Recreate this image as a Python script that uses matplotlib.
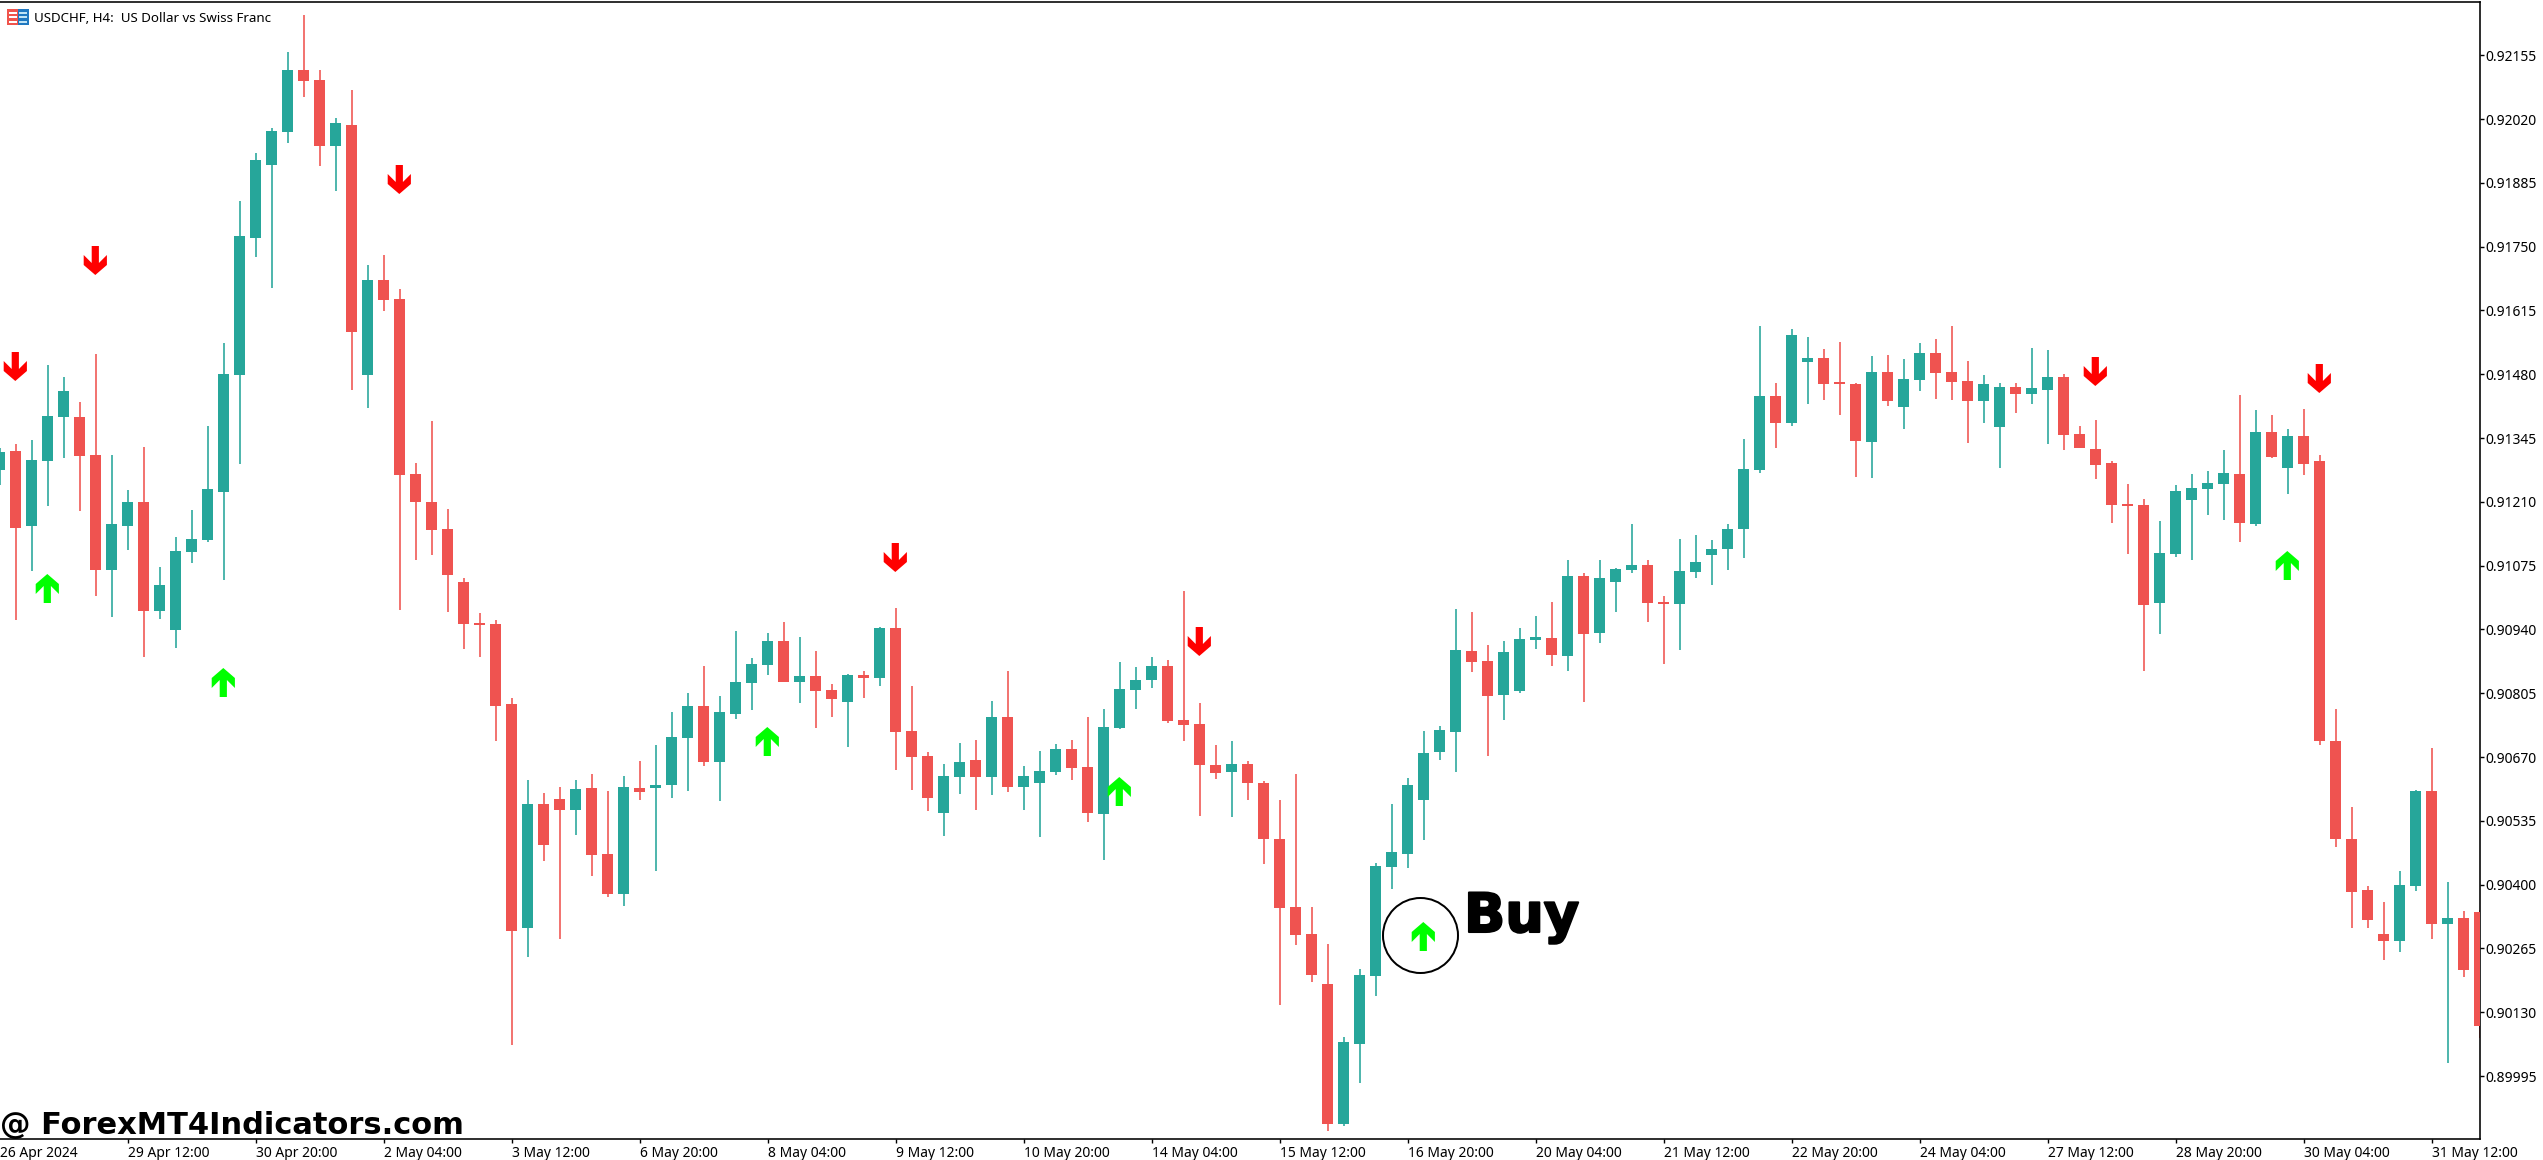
import numpy as np
import matplotlib
matplotlib.use("Agg")
import matplotlib.pyplot as plt
from matplotlib.path import Path
from matplotlib.patches import Rectangle
import matplotlib.patheffects as pe

# Candles, H4 USDCHF, prices in points (1e-5)
open_pts = [91277,91318,91159,91297,91390,91390,91309,91066,91159,91210,90979,90939,91104,91129,91231,91479,
91768,91923,91993,92124,92103,91963,92007,91479,91680,91639,91269,91210,91153,91040,90954,90952,
90782,90308,90571,90581,90558,90605,90465,90380,90605,90605,90611,90710,90778,90660,90761,90827,
90865,90916,90829,90842,90812,90787,90844,90837,90943,90725,90672,90552,90628,90664,90628,90755,
90607,90615,90638,90687,90649,90550,90732,90812,90833,90863,90749,90740,90653,90638,90655,90615,
90497,90353,90296,90190,89894,90063,90207,90437,90465,90579,90681,90723,90894,90873,90801,90810,
90918,90922,90884,91053,90933,91040,91066,91077,90998,90994,91062,91098,91110,91153,91277,91434,
91377,91506,91514,91464,91459,91337,91485,91411,91468,91525,91485,91466,91423,91368,91453,91438,
91447,91474,91354,91322,91292,91206,91203,90996,91100,91214,91237,91248,91269,91163,91358,91282,
91349,91297,90704,90497,90389,90296,90281,90397,90598,90317,90329,90342]
high_pts = [91324,91332,91341,91500,91474,91421,91523,91309,91235,91326,91072,91136,91193,91371,91546,91847,
91948,92001,92162,92240,92124,92022,92082,91711,91732,91660,91292,91381,91195,91049,90975,90960,
90795,90621,90594,90607,90621,90634,90598,90630,90662,90696,90765,90806,90863,90799,90937,90880,
90933,90956,90924,90894,90825,90846,90852,90945,90985,90820,90681,90655,90700,90706,90789,90852,
90651,90683,90698,90706,90755,90772,90871,90861,90882,90875,91021,90784,90696,90704,90662,90619,
90579,90634,90353,90274,90078,90222,90446,90571,90626,90725,90736,90983,90977,90907,90916,90943,
90969,90998,91087,91060,91087,91070,91163,91087,91011,91131,91140,91129,91163,91343,91582,91462,
91576,91559,91534,91548,91462,91519,91521,91512,91546,91555,91582,91508,91479,91462,91462,91536,
91531,91481,91371,91383,91297,91248,91216,91170,91246,91269,91275,91320,91436,91404,91394,91364,
91407,91309,90772,90564,90397,90363,90429,90600,90689,90406,90344,90346]
low_pts = [91246,90960,91064,91201,91303,91191,91011,90966,91108,90882,90962,90901,91081,91125,91045,91290,
91728,91663,91969,92067,91921,91868,91447,91409,91614,90981,91087,91098,90977,90899,90882,90704,
90061,90247,90450,90285,90505,90418,90374,90355,90579,90429,90583,90598,90651,90577,90751,90770,
90844,90829,90784,90732,90755,90691,90795,90820,90643,90600,90556,90503,90592,90558,90590,90596,
90558,90501,90632,90621,90533,90452,90729,90772,90816,90742,90704,90545,90624,90543,90579,90444,
90145,90272,90194,89879,89889,89980,90164,90391,90435,90495,90664,90638,90850,90672,90749,90806,
90899,90863,90852,90787,90911,90977,91060,90956,90867,90897,91049,91034,91066,91091,91271,91324,
91371,91417,91426,91394,91263,91261,91413,91364,91445,91428,91426,91335,91377,91282,91398,91417,
91332,91320,91324,91258,91165,91100,90852,90930,91093,91087,91182,91172,91125,91159,91303,91227,
91267,90696,90480,90308,90308,90241,90258,90387,90285,90023,90205,90076]
close_pts = [91316,91155,91299,91392,91445,91307,91066,91163,91210,90979,91034,91106,91131,91237,91481,91773,
91933,91995,92124,92101,91963,92012,91570,91680,91637,91267,91210,91150,91055,90952,90949,90778,
90302,90571,90484,90558,90603,90463,90380,90607,90596,90611,90713,90778,90660,90765,90829,90867,
90916,90829,90842,90810,90793,90844,90837,90943,90723,90670,90583,90630,90660,90628,90755,90607,
90630,90640,90687,90647,90552,90734,90814,90833,90863,90746,90738,90653,90636,90655,90615,90497,
90351,90294,90209,89894,90067,90209,90440,90469,90611,90679,90727,90897,90871,90799,90892,90920,
90924,90886,91053,90930,91049,91068,91077,90996,90994,91064,91083,91110,91153,91280,91434,91377,
91563,91514,91459,91459,91339,91485,91423,91470,91525,91483,91464,91423,91459,91453,91438,91451,
91474,91352,91324,91288,91203,91201,90992,91102,91233,91239,91250,91271,91165,91358,91305,91349,
91290,90704,90497,90385,90325,90281,90399,90598,90317,90329,90219,90101]

sell_bars = [1, 6, 25, 56, 75, 131, 145]
sell_pts = [91498, 91722, 91893, 91093, 90916, 91488, 91473]
buy_bars = [3, 14, 48, 70, 89, 143]
buy_pts = [91027, 90828, 90705, 90599, 90292, 91077]

highlight_bar = 88.75
highlight_pts = 90294

y_tick_pts = [92155, 92020, 91885, 91750, 91615, 91480, 91345, 91210, 91075, 90940,
              90805, 90670, 90535, 90400, 90265, 90130, 89995]
x_tick_labels = ['26 Apr 2024', '29 Apr 12:00', '30 Apr 20:00', '2 May 04:00', '3 May 12:00',
                 '6 May 20:00', '8 May 04:00', '9 May 12:00', '10 May 20:00', '14 May 04:00',
                 '15 May 12:00', '16 May 20:00', '20 May 04:00', '21 May 12:00', '22 May 20:00',
                 '24 May 04:00', '27 May 12:00', '28 May 20:00', '30 May 04:00', '31 May 12:00']
x_tick_step = 8

TITLE = 'USDCHF, H4:  US Dollar vs Swiss Franc'
WATERMARK = '@ ForexMT4Indicators.com'
UP = '#26A69A'
DOWN = '#EF5350'
LABEL_FONT = 'Noto Sans'

W, H, DPI = 2543, 1160, 100
PLOT_RIGHT, PLOT_TOP, PLOT_BOTTOM = 2480.3, 1.5, 1139.3
BAR_PX = 16.0
BAR_ZERO_PX = -0.3
PTS_PER_PX = 2.116
PTS_AT_Y0 = 92272

px = 72 / DPI
to_price = lambda a: np.asarray(a, dtype=float) / 1e5

fig = plt.figure(figsize=(W / DPI, H / DPI), dpi=DPI, facecolor='white')
ax = fig.add_axes([0, 1 - PLOT_BOTTOM / H, PLOT_RIGHT / W, (PLOT_BOTTOM - PLOT_TOP) / H])
ax.set_xlim((0 - BAR_ZERO_PX) / BAR_PX, (PLOT_RIGHT - BAR_ZERO_PX) / BAR_PX)
ax.set_ylim(to_price(PTS_AT_Y0 - PTS_PER_PX * PLOT_BOTTOM), to_price(PTS_AT_Y0 - PTS_PER_PX * PLOT_TOP))

o, h, l, c = map(to_price, (open_pts, high_pts, low_pts, close_pts))
bars = np.arange(len(o))
colors = [UP if ci >= oi else DOWN for oi, ci in zip(o, c)]

ax.vlines(bars, l, h, colors=colors, linewidth=1.6 * px, zorder=2)
ax.bar(bars, np.maximum(np.abs(c - o), 1.5e-5), bottom=np.minimum(o, c), width=11 / BAR_PX,
       color=colors, linewidth=0, zorder=3)

# Signal arrows
s = [(-3.6, 14.5), (3.6, 14.5), (3.6, -2.5), (11.6, 5.5), (11.6, -4.5), (0, -14.5),
     (-11.6, -4.5), (-11.6, 5.5), (-3.6, -2.5), (-3.6, 14.5)]
ARROW_SHIFT = -1.2
down_arrow = Path([(x + ARROW_SHIFT, y) for x, y in s], closed=True)
up_arrow = Path([(x + ARROW_SHIFT, -y) for x, y in s], closed=True)
ax.plot(sell_bars, to_price(sell_pts), ls='none', marker=down_arrow, ms=29 * px, color='#FF0000',
        mew=0, zorder=5)
ax.plot(buy_bars, to_price(buy_pts), ls='none', marker=up_arrow, ms=29 * px, color='#00FF00',
        mew=0, zorder=5)

# Buy annotation
ax.plot([highlight_bar], to_price([highlight_pts]), ls='none', marker='o', ms=75 * px, mfc='none',
        mec='black', mew=2 * px, zorder=6)
fig.text(1464 / W, 1 - 932 / H, 'Buy', fontsize=39, fontweight='bold', family='DejaVu Sans',
         color='black', ha='left', va='baseline',
         path_effects=[pe.withStroke(linewidth=1.5, foreground='black')])

# Frame and axes
for side in ('left', 'bottom', 'top', 'right'):
    ax.spines[side].set_visible(side != 'left')
    ax.spines[side].set_linewidth(1.6 * px)
ax.yaxis.tick_right()
ax.set_yticks(to_price(y_tick_pts))
ax.set_yticklabels([f'{v / 1e5:.5f}' for v in y_tick_pts], fontsize=10, family=LABEL_FONT)
ax.tick_params(axis='y', length=4 * px, width=1.4 * px, pad=1.5 * px, color='black')
ax.set_xticks(np.arange(len(x_tick_labels)) * x_tick_step)
ax.set_xticklabels(x_tick_labels, fontsize=10, family=LABEL_FONT, ha='left')
ax.tick_params(axis='x', length=4 * px, width=1.4 * px, pad=3 * px, color='black')
ax.xaxis.get_major_ticks()[0].tick1line.set_visible(False)
ax.set_axisbelow(False)

# Header
fig.text(34 / W, 1 - 18 / H, TITLE, fontsize=9.6, family=LABEL_FONT, color='black', ha='left', va='center')
fig.text(0, 1 - 1134 / H, WATERMARK, fontsize=22, fontweight='bold', family='DejaVu Sans',
         color='black', ha='left', va='baseline')

# Small chart icon
def icon_rect(x0, y0, w, ht, **kw):
    fig.add_artist(Rectangle((x0 / W, 1 - (y0 + ht) / H), w / W, ht / H, transform=fig.transFigure, linewidth=0, **kw))
icon_rect(7, 9, 11, 16, facecolor='#F0544C')
icon_rect(18, 9, 11, 16, facecolor='#1F78C1')
for row in (12, 16.5, 21):
    icon_rect(9, row, 8, 1.6, facecolor='#FFFFFF')
    icon_rect(19, row, 8, 1.6, facecolor='#BFE3F5')

fig.savefig('out.png', dpi=DPI, facecolor='white')
